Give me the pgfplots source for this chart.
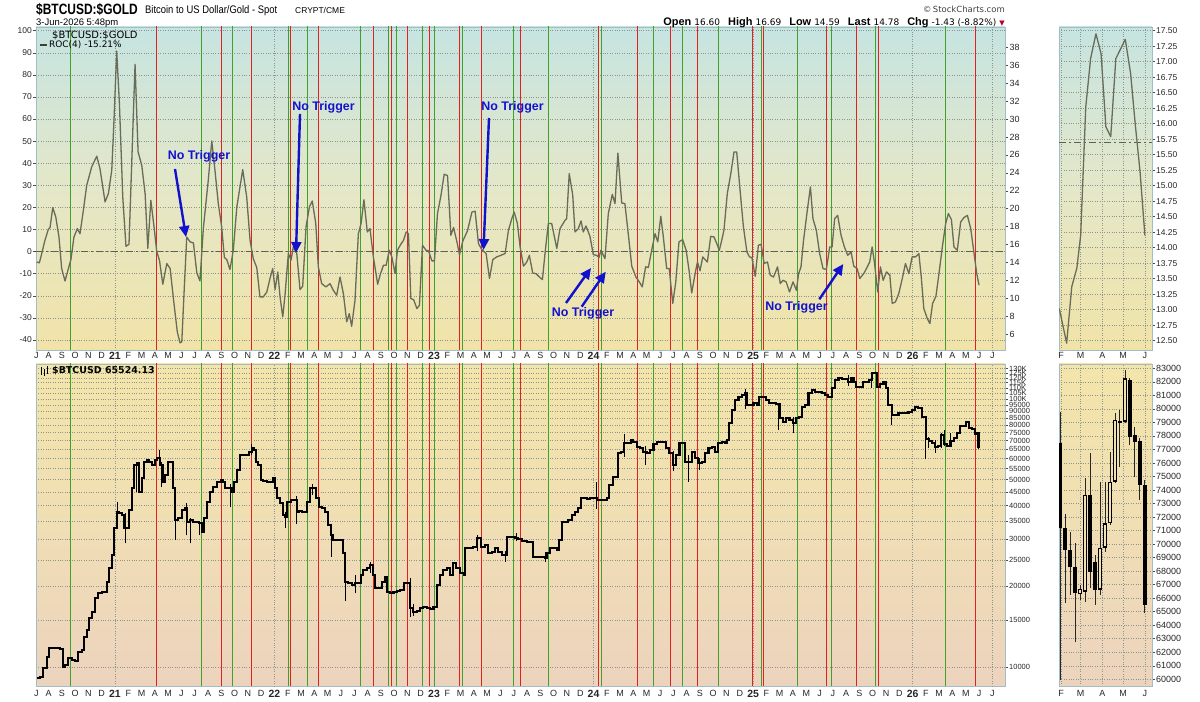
\documentclass[border=0pt]{standalone}
\usepackage{fontspec}
\setmainfont{Liberation Sans}
\newfontfamily\dejavu{DejaVu Sans}
\usepackage{graphicx}
\usepackage{pgfplots}
\usepackage{pgfplotstable}
\pgfplotsset{compat=1.18}
\usetikzlibrary{arrows.meta}
\definecolor{redL}{RGB}{226,32,32}
\definecolor{greenL}{RGB}{64,160,40}
\definecolor{rocC}{RGB}{104,108,88}
\definecolor{frameC}{RGB}{160,190,196}
\definecolor{gridC}{RGB}{140,150,140}
\definecolor{bgA}{RGB}{198,228,225}
\definecolor{bgB}{RGB}{228,231,200}
\definecolor{bgC}{RGB}{241,227,168}
\definecolor{bgD}{RGB}{243,229,170}
\definecolor{bgE}{RGB}{240,222,180}
\definecolor{bgF}{RGB}{236,211,190}
\definecolor{noteC}{RGB}{18,18,205}
\definecolor{downC}{RGB}{182,0,40}
\definecolor{hollowC}{RGB}{240,226,180}

\newcommand{\yr}[1]{{\fontsize{10.5}{11}\selectfont\bfseries #1}}

\pgfplotsset{
  panel/.style={
    scale only axis,
    axis line style={draw=frameC, line width=0.8bp},
    tick style={draw=black!70, line width=0.5bp},
    major tick length=3bp,
    tick align=outside,
    /pgf/number format/assume math mode=true,
    ticklabel style={font=\fontsize{8.5}{9}\selectfont, text=black!85},
    grid style={dotted, draw=gridC, line width=0.5bp},
  },
  monthticks/.style={
    xtick={2020.507,2020.58333,2020.66667,...,2026.51},
    xticklabels={J,A,S,O,N,D,\yr{21},F,M,A,M,J,J,A,S,O,N,D,\yr{22},F,M,A,M,J,J,A,S,O,N,D,\yr{23},F,M,A,M,J,J,A,S,O,N,D,\yr{24},F,M,A,M,J,J,A,S,O,N,D,\yr{25},F,M,A,M,J,J,A,S,O,N,D,\yr{26},F,M,A,M,J,J},
    xtick pos=left,
    x tick style={draw=none},
    xticklabel style={inner sep=1bp, yshift=2bp, font=\fontsize{9}{9}\selectfont},
    extra x ticks={2021,2022,2023,2024,2025,2026,2026.5},
    extra x tick labels={},
    extra x tick style={grid=major, tick style={draw=none}},
  },
  miniticks/.style={
    xtick={2026.085,2026.162,2026.247,2026.329,2026.414},
    xticklabels={F,M,A,M,J},
    xtick pos=left,
    x tick style={draw=none},
    xticklabel style={inner sep=1bp, yshift=2bp, font=\fontsize{9}{9}\selectfont},
  },
}

% ROC(4) of $BTCUSD:$GOLD (left scale, %)
\pgfplotstableread{
t v
2020.509 -4.7
2020.526 -5.1
2020.541 -0.9
2020.561 5.1
2020.582 10
2020.593 10.9
2020.610 19.9
2020.629 15.7
2020.649 6.6
2020.666 -7.7
2020.687 -13.3
2020.708 -7.7
2020.724 -3.6
2020.743 6.6
2020.764 10.4
2020.781 8.1
2020.802 18.7
2020.823 30
2020.854 38.3
2020.886 43.2
2020.906 37.6
2020.938 22.5
2020.959 26.3
2020.980 36.8
2020.994 59.5
2021.011 90.8
2021.028 67
2021.049 24.7
2021.069 2.4
2021.088 3.3
2021.126 84.8
2021.145 45.1
2021.168 39.1
2021.189 26.3
2021.206 1.4
2021.225 23.2
2021.245 11.2
2021.262 0
2021.279 -3.9
2021.300 -14.8
2021.325 -5.4
2021.346 -7.7
2021.370 -23.5
2021.391 -36.4
2021.408 -41.3
2021.419 -40.9
2021.433 -19
2021.450 6.6
2021.471 4.4
2021.492 3.9
2021.513 -9.5
2021.533 -13.3
2021.554 10.4
2021.585 32.3
2021.607 50.1
2021.627 36.8
2021.648 21.7
2021.669 11.2
2021.686 -2.7
2021.701 -3.6
2021.721 -8.1
2021.742 0.6
2021.764 20.2
2021.784 29.3
2021.801 37.1
2021.826 24.7
2021.847 5.1
2021.867 -3.2
2021.889 -7.2
2021.909 -20.5
2021.930 -20.5
2021.952 -18.3
2021.972 -12.2
2021.989 -7.7
2022.004 -17.2
2022.021 -9.2
2022.035 -20.5
2022.052 -29.6
2022.066 -19.8
2022.087 -0.9
2022.104 -3.9
2022.118 2.1
2022.140 -0.9
2022.160 -17.2
2022.177 -15.7
2022.198 11.2
2022.219 20.2
2022.237 22.9
2022.259 12.7
2022.275 -6.9
2022.296 -14.5
2022.323 -16
2022.348 -14.5
2022.369 -17.5
2022.390 -19.8
2022.411 -11.5
2022.432 -19
2022.453 -31.8
2022.469 -28.1
2022.484 -33.8
2022.505 -22
2022.526 8.1
2022.543 12.7
2022.561 23.5
2022.582 8.9
2022.599 10.4
2022.620 -2.4
2022.647 -14.8
2022.662 -10.7
2022.683 -6.2
2022.700 -6.2
2022.720 0.6
2022.736 -2.4
2022.756 -10
2022.771 0.6
2022.792 3.3
2022.809 5.1
2022.826 8.9
2022.840 8.1
2022.855 -21.3
2022.872 -21.7
2022.893 -25.8
2022.909 -24.3
2022.928 2.9
2022.950 0.6
2022.966 0.3
2022.987 -4.2
2023.003 -4.2
2023.022 17.2
2023.044 25.5
2023.064 35
2023.085 34.4
2023.106 7.4
2023.123 10.9
2023.144 4.4
2023.160 -1.4
2023.181 4.8
2023.210 9.4
2023.238 17.9
2023.258 18.3
2023.279 3.6
2023.300 0.9
2023.327 -0.9
2023.348 -12.2
2023.369 -3.6
2023.394 -2.4
2023.419 -1.7
2023.446 -0.9
2023.467 9.7
2023.488 14.9
2023.503 17.9
2023.523 12.7
2023.540 2.1
2023.561 -6.6
2023.582 -4.7
2023.598 -1.7
2023.619 -9.7
2023.640 -10
2023.661 -11.5
2023.680 -12.7
2023.696 -0.9
2023.717 12.7
2023.738 12.7
2023.770 1.4
2023.790 10.4
2023.822 14.2
2023.832 14.9
2023.848 35.3
2023.870 25.5
2023.884 8.9
2023.905 10.4
2023.922 13.9
2023.936 8.9
2023.953 11.6
2023.978 6.9
2023.999 -1.4
2024.020 -1.7
2024.035 -2.7
2024.046 0.6
2024.072 -3.2
2024.093 17.2
2024.118 25.9
2024.135 21.7
2024.153 44.6
2024.177 22
2024.197 21.7
2024.218 8.1
2024.240 -6.6
2024.266 -11.5
2024.287 -13.7
2024.306 -16
2024.327 -6.9
2024.344 -7.2
2024.365 0.6
2024.386 8.1
2024.403 4.4
2024.422 16
2024.438 6.6
2024.459 -7.7
2024.475 -7.7
2024.497 -23.5
2024.516 -13.7
2024.536 4.4
2024.559 5.4
2024.581 0.6
2024.599 -8.4
2024.616 -18.7
2024.637 -10
2024.652 -4.7
2024.668 -8.7
2024.685 -2.4
2024.699 -3.6
2024.714 -4.7
2024.735 6.9
2024.756 6.6
2024.773 3.6
2024.789 0.6
2024.804 5.1
2024.818 9.7
2024.839 26.3
2024.861 35.3
2024.881 45.1
2024.898 45.1
2024.919 27.8
2024.940 11.2
2024.962 -0.2
2024.978 -2.4
2024.993 -2.7
2025.014 -11.2
2025.034 2.9
2025.051 3.3
2025.070 -5.4
2025.091 -4.7
2025.108 -10.7
2025.129 -11.5
2025.154 -6.9
2025.171 -14.5
2025.188 -13
2025.208 -13.7
2025.229 -18.3
2025.251 -13.7
2025.272 -17.5
2025.286 -10
2025.301 -6.9
2025.317 5.1
2025.338 17.2
2025.360 29.3
2025.376 14.9
2025.397 9.7
2025.418 -0.9
2025.439 -7.7
2025.460 -8.1
2025.481 2.1
2025.496 2.1
2025.512 14.9
2025.531 16.4
2025.552 7.4
2025.573 2.1
2025.594 -1.7
2025.615 -0.2
2025.632 -6.6
2025.653 -7.7
2025.669 -12.2
2025.694 -10
2025.711 -7.7
2025.732 -4.7
2025.747 2.1
2025.761 -4.7
2025.782 -18.3
2025.799 -6.9
2025.816 -13
2025.837 -9.2
2025.858 -10.7
2025.873 -23.5
2025.893 -22.8
2025.914 -19
2025.936 -12.2
2025.956 -5.4
2025.977 -10
2025.998 -2.4
2026.019 -2.4
2026.040 -0.9
2026.055 -11.5
2026.071 -25.8
2026.093 -30.3
2026.109 -32.6
2026.126 -23.5
2026.147 -20.2
2026.166 -10
2026.187 2.1
2026.208 12.7
2026.225 17.2
2026.244 14.5
2026.260 2.1
2026.281 0.6
2026.302 13.4
2026.323 15.4
2026.344 16.4
2026.365 10.4
2026.386 -0.9
2026.403 -10
2026.417 -15.2
}\rocdata

% $BTCUSD weekly closes
\pgfplotstableread{
t v
2020.513 9070
2020.530 9200
2020.551 9890
2020.572 10930
2020.589 11810
2020.610 11740
2020.635 11740
2020.656 11670
2020.672 10030
2020.689 10170
2020.708 10780
2020.729 10620
2020.750 10530
2020.770 11410
2020.791 11570
2020.806 12980
2020.823 13750
2020.839 15190
2020.854 16090
2020.875 18040
2020.896 18830
2020.917 19100
2020.938 19100
2020.952 20820
2020.965 23350
2020.980 26180
2020.994 32920
2021.011 37990
2021.028 37450
2021.042 36920
2021.057 32920
2021.074 32920
2021.090 38540
2021.105 46420
2021.120 56720
2021.136 57540
2021.153 45110
2021.168 50580
2021.182 58370
2021.199 59210
2021.216 58370
2021.232 56720
2021.251 59210
2021.266 60060
2021.283 56720
2021.299 49150
2021.314 52040
2021.335 58370
2021.356 58370
2021.366 46420
2021.377 35360
2021.398 35870
2021.418 38540
2021.439 39100
2021.450 34850
2021.471 35360
2021.491 34850
2021.512 34850
2021.529 34360
2021.544 31990
2021.558 35870
2021.575 41400
2021.596 45110
2021.617 47090
2021.638 49150
2021.663 49860
2021.675 49150
2021.690 46420
2021.711 46420
2021.732 45110
2021.746 49150
2021.763 54330
2021.784 61800
2021.805 61800
2021.826 61800
2021.843 63600
2021.857 65450
2021.872 64520
2021.884 58370
2021.899 56720
2021.914 49860
2021.930 49430
2021.951 49150
2021.972 49150
2021.989 50580
2022.006 46420
2022.018 42600
2022.035 40810
2022.052 36920
2022.068 36390
2022.081 41400
2022.102 42000
2022.119 42000
2022.139 37990
2022.156 38210
2022.171 37990
2022.187 37990
2022.202 41400
2022.223 46420
2022.244 46420
2022.261 42600
2022.277 39660
2022.296 39100
2022.317 37990
2022.338 33880
2022.353 31090
2022.369 29780
2022.390 29780
2022.411 29780
2022.428 26550
2022.442 20820
2022.463 20530
2022.484 20230
2022.505 20530
2022.526 20530
2022.541 22040
2022.557 23010
2022.578 23350
2022.599 24020
2022.616 22040
2022.631 19660
2022.652 19660
2022.672 20820
2022.693 21740
2022.708 19100
2022.725 18830
2022.746 19100
2022.766 19210
2022.787 19380
2022.812 20530
2022.833 20530
2022.850 16560
2022.871 16090
2022.892 16180
2022.913 16560
2022.934 16800
2022.955 16560
2022.976 16470
2022.997 16800
2023.017 20230
2023.038 22040
2023.059 23010
2023.080 23350
2023.101 22040
2023.122 24370
2023.139 23350
2023.164 22360
2023.189 22040
2023.195 27720
2023.216 27880
2023.247 28120
2023.272 30210
2023.293 28120
2023.320 28530
2023.341 26550
2023.362 26940
2023.383 27720
2023.404 26940
2023.425 26180
2023.446 26180
2023.460 30650
2023.488 30650
2023.508 30210
2023.529 30080
2023.550 29530
2023.582 29360
2023.602 29360
2023.619 25810
2023.644 25810
2023.676 25810
2023.697 25590
2023.711 26550
2023.728 27720
2023.749 27720
2023.770 27320
2023.786 29780
2023.803 34850
2023.822 34850
2023.843 35360
2023.864 36920
2023.885 37990
2023.905 39100
2023.920 42600
2023.937 42600
2023.958 42360
2023.979 42600
2023.999 42850
2024.020 42000
2024.041 42000
2024.062 42000
2024.083 42600
2024.100 47770
2024.121 51300
2024.142 51300
2024.156 62700
2024.171 63600
2024.192 68320
2024.213 68320
2024.234 70310
2024.250 68920
2024.271 66400
2024.292 65450
2024.313 63600
2024.334 62700
2024.355 64520
2024.376 67740
2024.397 68920
2024.418 68920
2024.438 68920
2024.455 65450
2024.476 62700
2024.497 56720
2024.518 61800
2024.539 68320
2024.560 68320
2024.574 58370
2024.595 58370
2024.616 63600
2024.637 60060
2024.658 57540
2024.679 58370
2024.700 62700
2024.721 65450
2024.741 66400
2024.762 63600
2024.783 68320
2024.804 68920
2024.825 68320
2024.836 70310
2024.852 81150
2024.867 90980
2024.888 99150
2024.909 102000
2024.930 103500
2024.950 105000
2024.965 94970
2024.982 94970
2025.003 96340
2025.024 94970
2025.040 102000
2025.061 102000
2025.082 99150
2025.103 96340
2025.124 96340
2025.145 95520
2025.166 84710
2025.187 82320
2025.208 84710
2025.229 83500
2025.249 81150
2025.270 84710
2025.291 85930
2025.306 93620
2025.327 94970
2025.348 105000
2025.368 108000
2025.389 106500
2025.410 105900
2025.431 105000
2025.452 103500
2025.473 102000
2025.494 109600
2025.515 117760
2025.536 119460
2025.557 118780
2025.577 118780
2025.598 116100
2025.613 119460
2025.630 116100
2025.646 111200
2025.667 111200
2025.688 115430
2025.709 116100
2025.730 117760
2025.745 124700
2025.759 124700
2025.776 111200
2025.797 113460
2025.818 116100
2025.835 109600
2025.849 94970
2025.870 87170
2025.891 87170
2025.912 88420
2025.933 88420
2025.954 88420
2025.975 89690
2025.996 90980
2026.016 93620
2026.037 92290
2026.058 85930
2026.082 71170
2026.102 69570
2026.121 68330
2026.141 66360
2026.160 66610
2026.180 73630
2026.199 67960
2026.219 66610
2026.238 69740
2026.258 71540
2026.277 74620
2026.297 79180
2026.316 79100
2026.336 82260
2026.355 77950
2026.375 77580
2026.394 74370
2026.414 65524.13
}\btcdata

% inset: $BTCUSD:$GOLD weekly (Feb-Jun 2026)
\pgfplotstableread{
t v
2026.078 13.02
2026.107 12.46
2026.127 13.37
2026.147 13.67
2026.162 14.20
2026.182 16.27
2026.201 17.05
2026.222 17.45
2026.242 17.13
2026.261 15.95
2026.280 15.79
2026.300 17.05
2026.318 17.20
2026.337 17.36
2026.358 16.81
2026.376 16.00
2026.395 15.23
2026.414 14.20
}\ratiodata

\begin{document}
\begin{tikzpicture}[x=1bp,y=1bp]
\useasboundingbox (0bp,0bp) rectangle (1200bp,702bp);
\fill[white] (0bp,0bp) rectangle (1200bp,702bp);

% ---------------- top panel: ROC(4) ----------------
\begin{axis}[panel, monthticks,
  at={(36bp,352bp)}, anchor=south west, width=969bp, height=323bp,
  xmin=2020.505, xmax=2026.58, ymin=-44.55, ymax=101.67,
  axis background/.style={top color=bgA, bottom color=bgC, middle color=bgB},
  ytick={-40,-30,-20,-10,0,10,20,30,40,50,60,70,80,90,100},
  ytick pos=left, ymajorgrids,
  yticklabel style={inner sep=1bp},
]
\pgfplotsinvokeforeach{2020.724,2021.545,2021.734,2022.091,2022.204,2022.542,2022.715,2022.768,2022.925,2023.003,2023.176,2023.498,2023.715,2024.053,2024.379,2024.558,2024.784,2025.053,2025.282,2025.495,2025.765,2026.210}{
  \addplot[greenL, line width=1bp, forget plot] coordinates {(#1,-60) (#1,120)};
}
\pgfplotsinvokeforeach{2021.263,2021.665,2021.853,2022.103,2022.279,2022.618,2022.734,2022.834,2022.969,2023.157,2023.295,2023.545,2024.034,2024.273,2024.480,2024.651,2024.994,2025.069,2025.461,2025.649,2025.784,2026.398}{
  \addplot[redL, line width=1bp, forget plot] coordinates {(#1,-60) (#1,120)};
}
\addplot[rocC!90!black, line width=0.9bp, dash pattern=on 7bp off 3bp on 2bp off 3bp] coordinates {(2020.505,0) (2026.58,0)};
\addplot[rocC, line width=1.3bp, line join=round] table[x=t,y=v] {\rocdata};
\end{axis}

% right-hand scale of the top panel
\begin{axis}[panel,
  at={(36bp,352bp)}, anchor=south west, width=969bp, height=323bp,
  xmin=0, xmax=1, ymin=4.25, ymax=40.26,
  axis x line=none, axis y line*=right,
  ytick={6,8,10,12,14,16,18,20,22,24,26,28,30,32,34,36,38},
  yticklabel pos=right, yticklabel style={inner sep=1.5bp, font=\fontsize{9}{9}\selectfont},
]
\addplot[draw=none] coordinates {(0.5,10)};
\end{axis}

% ---------------- bottom panel: $BTCUSD (log) ----------------
\begin{axis}[panel, monthticks,
  at={(36bp,16bp)}, anchor=south west, width=969bp, height=322bp,
  xmin=2020.505, xmax=2026.58, ymode=log, ymin=8494, ymax=135100,
  axis background/.style={top color=bgD, bottom color=bgF, middle color=bgE},
  xticklabel style={yshift=-2bp},
  ytick={10000,15000,20000,25000,30000,35000,40000,45000,50000,55000,60000,65000,70000,75000,80000,85000,90000,95000,100000,105000,110000,115000,120000,125000,130000},
  yticklabels={10000,15000,20000,25000,30000,35000,40000,45000,50000,55000,60000,65000,70000,75000,80000,85000,90000,95000,100K,105K,110K,115K,120K,125K,130K},
  ytick pos=right, yticklabel pos=right, yminorticks=false,
  yticklabel style={inner sep=1bp, font=\fontsize{7.5}{7.5}\selectfont},
  ymajorgrids, unbounded coords=jump,
]
\pgfplotsinvokeforeach{2020.724,2021.545,2021.734,2022.091,2022.204,2022.542,2022.715,2022.768,2022.925,2023.003,2023.176,2023.498,2023.715,2024.053,2024.379,2024.558,2024.784,2025.053,2025.282,2025.495,2025.765,2026.210}{
  \addplot[greenL, line width=1bp, forget plot] coordinates {(#1,5000) (#1,200000)};
}
\pgfplotsinvokeforeach{2021.263,2021.665,2021.853,2022.103,2022.279,2022.618,2022.734,2022.834,2022.969,2023.157,2023.295,2023.545,2024.034,2024.273,2024.480,2024.651,2024.994,2025.069,2025.461,2025.649,2025.784,2026.398}{
  \addplot[redL, line width=1bp, forget plot] coordinates {(#1,5000) (#1,200000)};
}
% wicks (low, high)
\addplot[black, line width=0.8bp] coordinates {
(2020.672,9900)(2020.672,11700)(2020.672,nan)
(2021.015,34000)(2021.015,41400)(2021.015,nan)
(2021.063,28950)(2021.063,37450)(2021.063,nan)
(2021.132,45000)(2021.132,58400)(2021.132,nan)
(2021.278,56000)(2021.278,64500)(2021.278,nan)
(2021.293,47100)(2021.293,58000)(2021.293,nan)
(2021.377,29780)(2021.377,46400)(2021.377,nan)
(2021.450,31000)(2021.450,41000)(2021.450,nan)
(2021.471,28950)(2021.471,36000)(2021.471,nan)
(2021.529,31090)(2021.529,35000)(2021.529,nan)
(2021.721,39660)(2021.721,48000)(2021.721,nan)
(2021.857,62000)(2021.857,67700)(2021.857,nan)
(2022.066,32920)(2022.066,38000)(2022.066,nan)
(2022.139,34100)(2022.139,43500)(2022.139,nan)
(2022.240,44000)(2022.240,48100)(2022.240,nan)
(2022.359,25810)(2022.359,34000)(2022.359,nan)
(2022.442,17600)(2022.442,26500)(2022.442,nan)
(2022.505,18830)(2022.505,22000)(2022.505,nan)
(2022.603,22500)(2022.603,24700)(2022.603,nan)
(2022.850,15400)(2022.850,21500)(2022.850,nan)
(2022.871,15500)(2022.871,17200)(2022.871,nan)
(2023.272,27000)(2023.272,31090)(2023.272,nan)
(2023.446,24700)(2023.446,27000)(2023.446,nan)
(2023.519,29500)(2023.519,31600)(2023.519,nan)
(2023.697,24700)(2023.697,26800)(2023.697,nan)
(2024.020,38800)(2024.020,49150)(2024.020,nan)
(2024.192,61000)(2024.192,73850)(2024.192,nan)
(2024.323,56720)(2024.323,67000)(2024.323,nan)
(2024.501,53800)(2024.501,64000)(2024.501,nan)
(2024.595,49150)(2024.595,62000)(2024.595,nan)
(2024.664,54330)(2024.664,60000)(2024.664,nan)
(2024.950,92000)(2024.950,108600)(2024.950,nan)
(2025.159,76640)(2025.159,95000)(2025.159,nan)
(2025.254,74480)(2025.254,86000)(2025.254,nan)
(2025.598,112000)(2025.598,123000)(2025.598,nan)
(2025.745,110000)(2025.745,126200)(2025.745,nan)
(2025.870,80000)(2025.870,95000)(2025.870,nan)
(2026.082,59950)(2026.082,79750)(2026.082,nan)
(2026.102,65620)(2026.102,72200)(2026.102,nan)
(2026.141,62790)(2026.141,70060)(2026.141,nan)
(2026.180,65750)(2026.180,74870)(2026.180,nan)
(2026.199,66730)(2026.199,76710)(2026.199,nan)
(2026.238,66240)(2026.238,74620)(2026.238,nan)
(2026.297,74500)(2026.297,79670)(2026.297,nan)
(2026.336,78930)(2026.336,82880)(2026.336,nan)
(2026.394,73260)(2026.394,77820)(2026.394,nan)
(2026.414,64900)(2026.414,74740)
};
% bodies
\addplot[black, line width=2.1bp, const plot] table[x=t,y=v] {\btcdata};
\end{axis}

% ---------------- inset top: ratio ----------------
\begin{axis}[panel, miniticks,
  at={(1059bp,352bp)}, anchor=south west, width=93bp, height=323bp,
  xmin=2026.077, xmax=2026.442, ymin=12.35, ymax=17.56,
  axis background/.style={top color=bgA, bottom color=bgC, middle color=bgB},
  ytick={12.5,12.75,...,17.5},
  ytick pos=right, yticklabel pos=right,
  yticklabel style={inner sep=1bp, font=\fontsize{8.5}{8.5}\selectfont, /pgf/number format/.cd, fixed, fixed zerofill, precision=2},
  grid=major,
]
\addplot[rocC!90!black, line width=0.9bp, dash pattern=on 7bp off 3bp on 2bp off 3bp] coordinates {(2026.077,15.70) (2026.442,15.70)};
\addplot[rocC, line width=1.3bp, line join=round] table[x=t,y=v] {\ratiodata};
\end{axis}

% ---------------- inset bottom: weekly candles ----------------
\begin{axis}[panel, miniticks,
  at={(1059bp,16bp)}, anchor=south west, width=93bp, height=322bp,
  xmin=2026.077, xmax=2026.442, ymin=59505, ymax=83318,
  axis background/.style={top color=bgD, bottom color=bgF, middle color=bgE},
  xticklabel style={yshift=-2bp},
  ytick={60000,61000,62000,63000,64000,65000,66000,67000,68000,69000,70000,71000,72000,73000,74000,75000,76000,77000,78000,79000,80000,81000,82000,83000},
  scaled y ticks=false,
  ytick pos=right, yticklabel pos=right,
  yticklabel style={inner sep=1bp, font=\fontsize{9}{9}\selectfont, /pgf/number format/.cd, fixed, 1000 sep={}},
  grid=major, unbounded coords=jump,
]
% wicks
\addplot[black!85, line width=0.9bp] coordinates {
(2026.082,59950)(2026.082,79750)(2026.082,nan)
(2026.102,65620)(2026.102,72200)(2026.102,nan)
(2026.121,66240)(2026.121,70920)(2026.121,nan)
(2026.141,62790)(2026.141,70060)(2026.141,nan)
(2026.160,65900)(2026.160,67000)(2026.160,nan)
(2026.180,65750)(2026.180,74870)(2026.180,nan)
(2026.199,66730)(2026.199,76710)(2026.199,nan)
(2026.219,65500)(2026.219,69200)(2026.219,nan)
(2026.238,66240)(2026.238,74620)(2026.238,nan)
(2026.258,69440)(2026.258,74620)(2026.258,nan)
(2026.277,71410)(2026.277,76840)(2026.277,nan)
(2026.297,74500)(2026.297,79670)(2026.297,nan)
(2026.316,75730)(2026.316,79920)(2026.316,nan)
(2026.336,78930)(2026.336,82880)(2026.336,nan)
(2026.355,77330)(2026.355,82260)(2026.355,nan)
(2026.375,74990)(2026.375,78690)(2026.375,nan)
(2026.394,73260)(2026.394,77820)(2026.394,nan)
(2026.414,64900)(2026.414,74740)
};
% bodies (open, close)
\addplot[black, line width=4bp] coordinates {
(2026.082,77450)(2026.082,71170)(2026.082,nan)
(2026.102,71170)(2026.102,69570)(2026.102,nan)
(2026.121,69570)(2026.121,68330)(2026.121,nan)
(2026.141,68330)(2026.141,66360)(2026.141,nan)
(2026.160,66300)(2026.160,66670)(2026.160,nan)
(2026.180,66490)(2026.180,73630)(2026.180,nan)
(2026.199,73630)(2026.199,67960)(2026.199,nan)
(2026.219,68700)(2026.219,66610)(2026.219,nan)
(2026.238,66610)(2026.238,69740)(2026.238,nan)
(2026.258,69740)(2026.258,71540)(2026.258,nan)
(2026.277,71540)(2026.277,74620)(2026.277,nan)
(2026.297,74620)(2026.297,79180)(2026.297,nan)
(2026.316,78930)(2026.316,79100)(2026.316,nan)
(2026.336,79060)(2026.336,82260)(2026.336,nan)
(2026.355,82140)(2026.355,77950)(2026.355,nan)
(2026.375,78070)(2026.375,77580)(2026.375,nan)
(2026.394,77630)(2026.394,74370)(2026.394,nan)
(2026.414,74370)(2026.414,65524)
};
% hollow interiors of the up weeks
\addplot[hollowC, line width=2bp] coordinates {
(2026.160,66400)(2026.160,66570)(2026.160,nan)
(2026.180,66600)(2026.180,73520)(2026.180,nan)
(2026.238,66720)(2026.238,69630)(2026.238,nan)
(2026.258,69850)(2026.258,71430)(2026.258,nan)
(2026.277,71650)(2026.277,74510)(2026.277,nan)
(2026.297,74730)(2026.297,79070)(2026.297,nan)
(2026.336,79170)(2026.336,82150)
};
\end{axis}

% ---------------- header texts ----------------
\node[anchor=base west, inner sep=0] at (36bp,687bp) {\scalebox{0.8}[1]{\fontsize{15}{15}\selectfont\bfseries \$BTCUSD:\$GOLD}};
\node[anchor=base west, inner sep=0] at (145bp,688bp) {\scalebox{0.86}[1]{\fontsize{11}{11}\selectfont Bitcoin to US Dollar/Gold - Spot}};
\node[anchor=base west, inner sep=0] at (295bp,688bp) {\fontsize{8.5}{9}\selectfont CRYPT/CME};
\node[anchor=base west, inner sep=0] at (36bp,676.5bp) {\fontsize{9.5}{10}\selectfont 3-Jun-2026 5:48pm};
\node[anchor=base east, inner sep=0, text=black!75] at (1005bp,689bp) {\dejavu\fontsize{8.5}{9}\selectfont ©\,StockCharts.com};
\node[anchor=base east, inner sep=0] at (1005bp,676bp) {\fontsize{11}{11}\selectfont
  \textbf{Open} {\dejavu\fontsize{9}{9}\selectfont 16.60}\hspace{5bp}
  \textbf{High} {\dejavu\fontsize{9}{9}\selectfont 16.69}\hspace{5bp}
  \textbf{Low} {\dejavu\fontsize{9}{9}\selectfont 14.59}\hspace{5bp}
  \textbf{Last} {\dejavu\fontsize{9}{9}\selectfont 14.78}\hspace{5bp}
  \textbf{Chg} {\dejavu\fontsize{9}{9}\selectfont -1.43 (-8.82\%)} {\dejavu\fontsize{7}{7}\selectfont\color{downC}▼}};

% legends inside panels
\node[anchor=west, inner sep=0] at (52bp,667bp) {\dejavu\fontsize{10}{10}\selectfont \$BTCUSD:\$GOLD};
\draw[rocC!60!black, line width=2.5bp] (40bp,657bp) -- (47bp,657bp);
\node[anchor=west, inner sep=0] at (49bp,657bp) {\dejavu\fontsize{9}{9}\selectfont ROC(4) -15.21\%};
\draw[black, line width=0.9bp] (41bp,327bp) -- (41bp,335bp) (44bp,326bp) -- (44bp,333bp) (47bp,328bp) -- (47bp,336bp);
\node[anchor=west, inner sep=0] at (52bp,331bp) {\dejavu\bfseries\fontsize{9.5}{9.5}\selectfont \$BTCUSD 65524.13};

% ---------------- "No Trigger" annotations ----------------
\tikzset{nt/.style={text=noteC, inner sep=0, font=\fontsize{12.5}{13}\selectfont\bfseries},
         na/.style={draw=noteC, line width=2.4bp, -{Triangle[length=11bp,width=10bp]}}}
\node[nt] at (199bp,546bp) {No Trigger};
\draw[na] (175bp,533bp) -- (186bp,465bp);
\node[nt] at (323.5bp,595bp) {No Trigger};
\draw[na] (300bp,588bp) -- (296bp,449bp);
\node[nt] at (512.5bp,595bp) {No Trigger};
\draw[na] (489bp,584bp) -- (483.5bp,452bp);
\node[nt] at (583bp,389bp) {No Trigger};
\draw[na] (566bp,399bp) -- (591bp,434bp);
\draw[na] (581.7bp,395.3bp) -- (605.7bp,430.3bp);
\node[nt] at (796.5bp,395bp) {No Trigger};
\draw[na] (819.3bp,402.7bp) -- (843.3bp,438bp);
\end{tikzpicture}
\end{document}
